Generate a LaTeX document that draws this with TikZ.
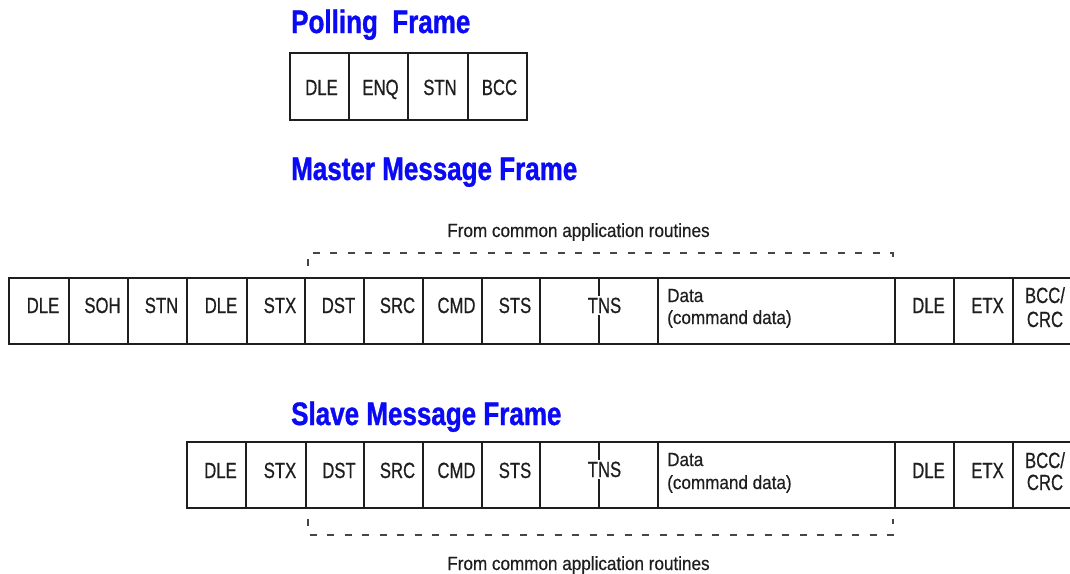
\documentclass[tikz,border=0pt]{standalone}
\usepackage{fontspec}
\setmainfont{Liberation Sans}
\newfontfamily\lblfont[FakeStretch=0.76,FakeBold=0.6]{Liberation Sans}
\newfontfamily\txtfont[FakeStretch=0.9,FakeBold=0.5]{Liberation Sans}
\newfontfamily\ttlfont[FakeStretch=0.8,FakeBold=1]{Liberation Sans Bold}
\definecolor{ink}{RGB}{30,30,30}
\definecolor{ttlblue}{RGB}{10,10,245}
\definecolor{dashgray}{RGB}{70,70,70}
\tikzset{
  cell/.style={draw=ink, line width=2pt, rectangle, inner sep=0pt, minimum height=66pt},
  lbl/.style={font=\lblfont\fontsize{22}{26}\selectfont, text=ink, anchor=base, inner sep=0pt},
  txt/.style={font=\txtfont\fontsize{19}{22}\selectfont, text=ink, inner sep=0pt},
  ttl/.style={font=\ttlfont\fontsize{32.5}{38}\selectfont, text=ttlblue, anchor=base west, inner sep=0pt},
  bracket/.style={draw=dashgray, line width=2pt, dash pattern=on 7pt off 10.5pt},
  divider/.style={draw=ink, line width=2pt}
}
\begin{document}
\begin{tikzpicture}[x=1pt,y=-1pt]
\useasboundingbox (0,0) rectangle (1070,573);
\clip (0,0) rectangle (1070,573);
% titles
\node[ttl] (tpoll) at (291,33) {Polling\ \ Frame};
\node[ttl] (tmaster) at (291,180) {Master Message Frame};
\node[ttl] (tslave) at (291,425) {Slave Message Frame};
% polling frame
\foreach \n/\l/\r in {1/290/349, 2/349/408, 3/408/468, 4/468/527}
  \node[cell, minimum height=67pt, minimum width={(\r-\l)*1pt}] (p\n) at ({(\l+\r)/2}, 86.5) {};
\foreach \n/\t in {1/DLE, 2/ENQ, 3/STN, 4/BCC}
  \node[lbl, xshift=2pt, yshift=-8.5pt] (pl\n) at (p\n.center) {\t};
% master frame
\foreach \n/\l/\r in {1/9/69, 2/69/128, 3/128/187, 4/187/247, 5/247/305, 6/305/364, 7/364/423, 8/423/482, 9/482/540, 10/540/658, 11/658/895, 12/895/954, 13/954/1013, 14/1013/1085}
  \node[cell, minimum width={(\r-\l)*1pt}] (m\n) at ({(\l+\r)/2}, 311) {};
\foreach \n/\t in {1/DLE, 2/SOH, 3/STN, 4/DLE, 5/STX, 6/DST, 7/SRC, 8/CMD, 9/STS, 12/DLE, 13/ETX}
  \node[lbl, xshift=4pt, yshift=-2pt] (ml\n) at (m\n.center) {\t};
\draw[divider] (m10.north) -- (m10.south);
\node[lbl, fill=white, inner sep=1.5pt, xshift=5.5pt, yshift=-2pt] (mtns) at (m10.center) {TNS};
\node[txt, anchor=base west, xshift=10pt, yshift=-25pt] (md1) at (m11.north west) {Data};
\node[txt, anchor=base west, xshift=10pt, yshift=-47pt] (md2) at (m11.north west) {(command data)};
\node[lbl] (mb1t) at (1045,303) {BCC/};
\node[lbl] (mb2t) at (1045,327) {CRC};
% master bracket
\coordinate (mbA) at (308,266);
\coordinate (mbB) at (893,266);
\draw[bracket] (mbA) -- ++(0,-13) -| (mbB);
\node[txt, anchor=base] (mfrom) at (578.5,237) {From common application routines};
% slave frame
\foreach \n/\l/\r in {1/187/246, 2/246/306, 3/306/364, 4/364/423, 5/423/482, 6/482/540, 7/540/658, 8/658/895, 9/895/954, 10/954/1013, 11/1013/1085}
  \node[cell, minimum width={(\r-\l)*1pt}] (s\n) at ({(\l+\r)/2}, 475) {};
\foreach \n/\t in {1/DLE, 2/STX, 3/DST, 4/SRC, 5/CMD, 6/STS, 9/DLE, 10/ETX}
  \node[lbl, xshift=4pt, yshift=-3pt] (sl\n) at (s\n.center) {\t};
\draw[divider] (s7.north) -- (s7.south);
\node[lbl, fill=white, inner sep=1.5pt, xshift=5.5pt, yshift=-2pt] (stns) at (s7.center) {TNS};
\node[txt, anchor=base west, xshift=10pt, yshift=-25pt] (sd1) at (s8.north west) {Data};
\node[txt, anchor=base west, xshift=10pt, yshift=-48pt] (sd2) at (s8.north west) {(command data)};
\node[lbl] (sb1t) at (1045,468) {BCC/};
\node[lbl] (sb2t) at (1045,490) {CRC};
% slave bracket
\coordinate (sbA) at (308,519);
\coordinate (sbB) at (893,519);
\draw[bracket] (sbA) -- ++(0,16) -| (sbB);
\node[txt, anchor=base] (sfrom) at (578.5,570) {From common application routines};
\end{tikzpicture}
\end{document}
